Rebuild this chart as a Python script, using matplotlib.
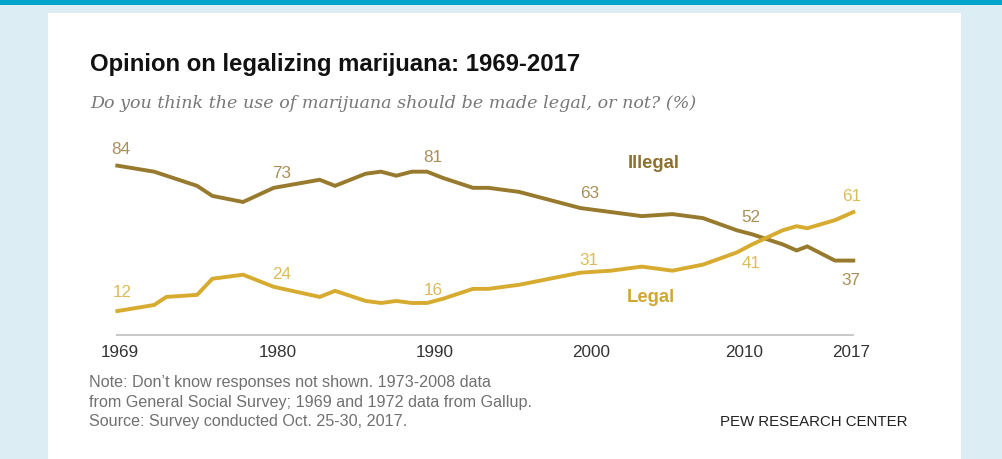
import matplotlib
matplotlib.use("Agg")
import matplotlib.pyplot as plt
from matplotlib.patches import Rectangle

# Survey dates (fractional years) and shares saying marijuana should be legal / illegal
years = [1969.8, 1972.2, 1973, 1975, 1976, 1978, 1980, 1983, 1984, 1986, 1987,
         1988, 1989, 1990, 1991, 1993, 1994, 1996, 1998, 2000, 2002, 2004, 2006,
         2008, 2010.2, 2011.2, 2013.2, 2014.1, 2014.8, 2016.6, 2017.8]
legal = [12, 15, 19, 20, 28, 30, 24, 19, 22, 17, 16,
         17, 16, 16, 18, 23, 23, 25, 28, 31, 32, 34, 32,
         35, 41, 45, 52, 54, 53, 57, 61]
illegal = [84, 81, 79, 74, 69, 66, 73, 77, 74, 80, 81,
           79, 81, 81, 78, 73, 73, 71, 67, 63, 61, 59, 60,
           58, 52, 50, 45, 42, 44, 37, 37]

tick_labels = ["1969", "1980", "1990", "2000", "2010", "2017"]
tick_pos = [1969.95, 1980.25, 1990.5, 2000.7, 2010.65, 2017.65]

title = "Opinion on legalizing marijuana: 1969-2017"
subtitle = "Do you think the use of marijuana should be made legal, or not? (%)"
note_lines = ["Note: Don\u2019t know responses not shown. 1973-2008 data",
              "from General Social Survey; 1969 and 1972 data from Gallup.",
              "Source: Survey conducted Oct. 25-30, 2017."]
credit = "PEW RESEARCH CENTER"

C_ILLEGAL = "#977a2e"
C_ILLEGAL_TXT = "#a88f58"
C_LEGAL = "#d6ab2f"
C_LEGAL_TXT = "#dcbb5c"

W, H = 1002, 459
SANS = ["Liberation Sans", "DejaVu Sans"]


def fx(x):
    return x / W


def fy(y):
    return 1 - y / H


fig = plt.figure(figsize=(W / 100, H / 100), dpi=100)
fig.patch.set_facecolor("#dcedf3")
fig.patches.append(Rectangle((fx(48), 0), fx(961) - fx(48), fy(13), transform=fig.transFigure,
                             facecolor="white", edgecolor="none", zorder=-10))
fig.patches.append(Rectangle((0, fy(5)), 1, 5 / H, transform=fig.transFigure,
                             facecolor="#00a3c9", edgecolor="none", zorder=-10))

ax = fig.add_axes([fx(117.3), fy(335.3), fx(853.3) - fx(117.3), 90 * 2.02 / H], zorder=2)
ax.set_facecolor("none")
ax.set_xlim(years[0], years[-1])
ax.set_ylim(0, 90)

ax.plot(years, illegal, color=C_ILLEGAL, lw=2.8, solid_joinstyle="miter", clip_on=False, zorder=3)
ax.plot(years, legal, color=C_LEGAL, lw=2.8, solid_joinstyle="miter", clip_on=False, zorder=3)

for s in ["top", "right", "left"]:
    ax.spines[s].set_visible(False)
ax.spines["bottom"].set_color("#c8c8c8")
ax.spines["bottom"].set_linewidth(1.4)
ax.set_yticks([])
ax.set_xticks(tick_pos, tick_labels)
ax.tick_params(axis="x", length=0, pad=7, labelsize=12.3, labelcolor="#333333")
for lab in ax.get_xticklabels():
    lab.set_family(SANS)

# value labels: (series, colour, index, pixel offset)
label_specs = [
    (illegal, C_ILLEGAL_TXT, 0, (4, 16)), (illegal, C_ILLEGAL_TXT, 6, (8, 14)),
    (illegal, C_ILLEGAL_TXT, 13, (6, 14)), (illegal, C_ILLEGAL_TXT, 19, (9, 14.5)),
    (illegal, C_ILLEGAL_TXT, 24, (14, 13)), (illegal, C_ILLEGAL_TXT, -1, (-2, -20)),
    (legal, C_LEGAL_TXT, 0, (5, 18.5)), (legal, C_LEGAL_TXT, 6, (8, 12)),
    (legal, C_LEGAL_TXT, 13, (6, 12)), (legal, C_LEGAL_TXT, 19, (9, 12)),
    (legal, C_LEGAL_TXT, 24, (14, -11)), (legal, C_LEGAL_TXT, -1, (-2, 16)),
]
for series, col, i, off in label_specs:
    ax.annotate(f"{series[i]}", (years[i], series[i]), xytext=off, textcoords="offset pixels",
                ha="center", va="center", fontsize=12.3, color=col, family=SANS,
                annotation_clip=False)

fig.text(fx(654), fy(163), "Illegal", ha="center", va="center", fontsize=13.3, fontweight="bold",
         color="#8c7230", family=SANS)
fig.text(fx(650.5), fy(298), "Legal", ha="center", va="center", fontsize=13.3, fontweight="bold",
         color="#d1a733", family=SANS)

fig.text(fx(90), fy(71), title, ha="left", va="baseline", fontsize=17.2, fontweight="bold",
         color="#111111", family=SANS)
fig.text(fx(90), fy(108), subtitle, ha="left", va="baseline", fontsize=12.6, style="italic",
         color="#777777", family=["DejaVu Serif"])

for k, line in enumerate(note_lines):
    fig.text(fx(89), fy(383 + 19.3 * k), line, ha="left", va="center", fontsize=11.6,
             color="#707070", family=SANS)
fig.text(fx(907), fy(421.5), credit, ha="right", va="center", fontsize=10.8,
         color="#222222", family=SANS)

fig.savefig("out.png", dpi=100, facecolor=fig.get_facecolor())
